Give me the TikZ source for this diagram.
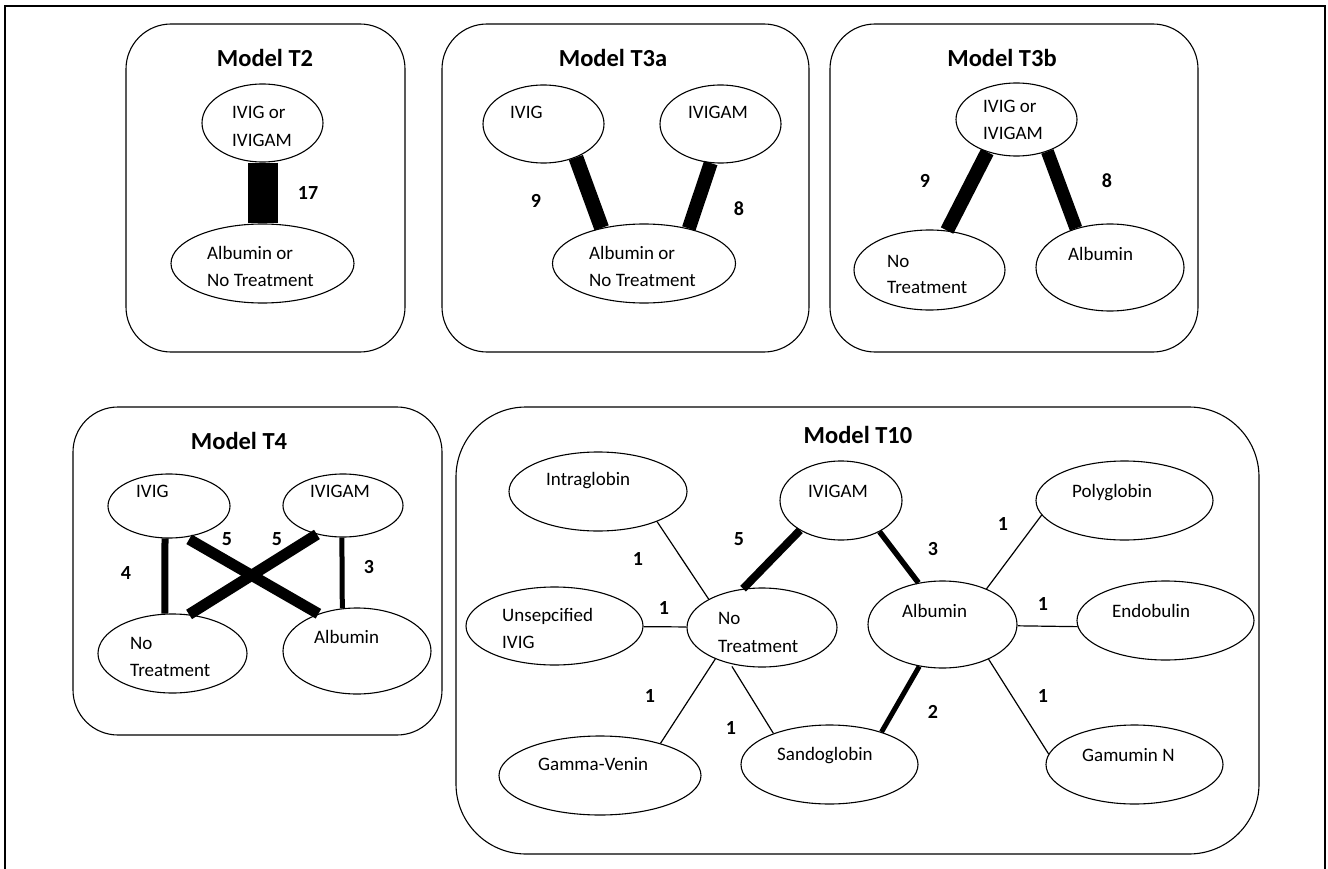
\documentclass[tikz,border=0pt]{standalone}
\usepackage{fontspec}
\setmainfont{Carlito}
\usetikzlibrary{shapes.geometric}
\tikzset{
  frameline/.style={line width=2pt},
  panel/.style={draw, rectangle, rounded corners=45pt, line width=1.1pt, inner sep=0pt, outer sep=0pt},
  oval/.style={draw, ellipse, line width=1.1pt, inner sep=0pt},
  txt/.style={anchor=base west, inner sep=0pt, font=\fontsize{19}{19}\selectfont},
  num/.style={anchor=base, inner sep=0pt, font=\bfseries\fontsize{20}{20}\selectfont},
  ttl/.style={anchor=base, inner sep=0pt, font=\bfseries\fontsize{24.5}{24.5}\selectfont},
  thinedge/.style={line width=1.2pt},
  baredge/.style={line width=#1},
}
\begin{document}
\begin{tikzpicture}[x=1pt,y=-1pt]
\useasboundingbox (0,0) rectangle (1328,869);
\fill[white] (0,0) rectangle (1328,869);
\draw[frameline] (5,869) -- (5,6) -- (1325,6) -- (1325,869);

% ---------- panels ----------
\node[panel, minimum width=279pt, minimum height=328pt] (pT2) at (265.5,188) {};
\node[panel, minimum width=367pt, minimum height=328pt] (pT3a) at (625.5,188) {};
\node[panel, minimum width=368pt, minimum height=328pt] (pT3b) at (1014,188) {};
\node[panel, minimum width=369pt, minimum height=328pt] (pT4) at (257.5,571) {};
\node[panel, rounded corners=70pt, minimum width=803pt, minimum height=447pt] (pT10) at (857.5,630.5) {};

% ---------- titles ----------
\node[ttl] (tT2) at (265,67) {Model T2};
\node[ttl] (tT3a) at (613,67) {Model T3a};
\node[ttl] (tT3b) at (1002,67) {Model T3b};
\node[ttl] (tT4) at (239,449) {Model T4};
\node[ttl] (tT10) at (858,443) {Model T10};

% ---------- Model T2 ----------
\node[oval, minimum width=121pt, minimum height=78pt] (a2) at (262.5,123) {};
\node[oval, minimum width=183pt, minimum height=79pt] (b2) at (262.5,263.5) {};
\node[txt] (a2l1) at (232,119) {IVIG or};
\node[txt] (a2l2) at (232,147) {IVIGAM};
\node[txt] (b2l1) at (207,259) {Albumin or};
\node[txt] (b2l2) at (207,287) {No Treatment};
\draw[baredge=30pt] (a2) -- (b2);
\node[num] (n2) at (308,200) {17};

% ---------- Model T3a ----------
\node[oval, minimum width=121pt, minimum height=78pt] (a3) at (543.5,124) {};
\node[oval, minimum width=121pt, minimum height=78pt] (c3) at (720.5,124) {};
\node[oval, minimum width=183pt, minimum height=79pt] (b3) at (644,263.5) {};
\node[txt] (a3l) at (510,119) {IVIG};
\node[txt] (c3l) at (688,119) {IVIGAM};
\node[txt] (b3l1) at (589,259) {Albumin or};
\node[txt] (b3l2) at (589,287) {No Treatment};
\draw[baredge=15pt] (a3.-46) -- (b3.140);
\draw[baredge=14pt] (c3.-104) -- (b3.38);
\node[num] (n3a) at (536,208) {9};
\node[num] (n3b) at (739,215) {8};

% ---------- Model T3b ----------
\node[oval, minimum width=121pt, minimum height=73pt] (a4) at (1016.5,119.5) {};
\node[oval, minimum width=151pt, minimum height=80pt] (b4) at (929.5,270) {};
\node[oval, minimum width=148pt, minimum height=87pt] (c4) at (1110,267.5) {};
\node[txt] (a4l1) at (983,113) {IVIG or};
\node[txt] (a4l2) at (983,140) {IVIGAM};
\node[txt] (b4l1) at (887,267) {No};
\node[txt] (b4l2) at (887,293) {Treatment};
\node[txt] (c4l) at (1068,260) {Albumin};
\draw[baredge=14pt] (a4.-132) -- (b4.66);
\draw[baredge=13pt] (a4.-46) -- (c4.131);
\node[num] (n4a) at (925,188) {9};
\node[num] (n4b) at (1107,188) {8};

% ---------- Model T4 ----------
\node[oval, minimum width=122pt, minimum height=64pt] (a5) at (169,506) {};
\node[oval, minimum width=120pt, minimum height=63pt] (c5) at (343,505.5) {};
\node[oval, minimum width=149pt, minimum height=79pt] (b5) at (172.5,653.5) {};
\node[oval, minimum width=148pt, minimum height=86pt] (d5) at (357,651) {};
\node[txt] (a5l) at (136,497) {IVIG};
\node[txt] (c5l) at (310,497) {IVIGAM};
\node[txt] (b5l1) at (130,649) {No};
\node[txt] (b5l2) at (130,676) {Treatment};
\node[txt] (d5l) at (314,643) {Albumin};
\draw[baredge=7pt] (a5.-97) -- (b5.101);
\draw[baredge=5pt] (c5.-92) -- (d5.109);
\draw[baredge=11pt, shorten <=4pt] (a5.-62) -- (d5.136);
\draw[baredge=11pt] (c5.-132) -- (b5.67);
\node[num] (n5a) at (126,579) {4};
\node[num] (n5b) at (227,545) {5};
\node[num] (n5c) at (277,545) {5};
\node[num] (n5d) at (369,573) {3};

% ---------- Model T10 ----------
\node[oval, minimum width=178pt, minimum height=79pt] (intra) at (598,491.5) {};
\node[oval, minimum width=177pt, minimum height=78pt] (unsp) at (554.5,626) {};
\node[oval, minimum width=150pt, minimum height=79pt] (nt) at (762,627.5) {};
\node[oval, minimum width=202pt, minimum height=79pt] (gamma) at (600,775.5) {};
\node[oval, minimum width=177pt, minimum height=79pt] (sando) at (829.5,764.5) {};
\node[oval, minimum width=122pt, minimum height=79pt] (ivigam) at (841,500.5) {};
\node[oval, minimum width=149pt, minimum height=87pt] (alb) at (942.5,624.5) {};
\node[oval, minimum width=177pt, minimum height=79pt] (poly) at (1124.5,500.5) {};
\node[oval, minimum width=177pt, minimum height=79pt] (endo) at (1165.5,620.5) {};
\node[oval, minimum width=177pt, minimum height=79pt] (gamu) at (1134.5,764.5) {};

\node[txt] (intral) at (546,485.5) {Intraglobin};
\node[txt] (unspl1) at (502,621) {Unsepcified};
\node[txt] (unspl2) at (502,648) {IVIG};
\node[txt] (ntl1) at (718,624) {No};
\node[txt] (ntl2) at (718,652) {Treatment};
\node[txt] (gammal) at (538,770) {Gamma-Venin};
\node[txt] (sandol) at (777,760) {Sandoglobin};
\node[txt] (ivigaml) at (808,497) {IVIGAM};
\node[txt] (albl) at (902,617) {Albumin};
\node[txt] (polyl) at (1072,497) {Polyglobin};
\node[txt] (endol) at (1112,617) {Endobulin};
\node[txt] (gamul) at (1082,761) {Gamumin N};

\draw[thinedge] (intra.-27) -- (nt.152);
\draw[thinedge] (unsp) -- (nt);
\draw[thinedge] (nt.-146) -- (gamma.28);
\draw[thinedge, shorten <=3pt] (nt.-131) -- (sando.151);
\draw[baredge=8pt] (ivigam.-144) -- (nt.116);
\draw[baredge=5.5pt] (ivigam.-39) -- (alb.120);
\draw[baredge=5pt] (alb.-119) -- (sando.32);
\draw[thinedge] (alb.39) -- (poly.-170);
\draw[thinedge] (alb.-1) -- (endo.184);
\draw[thinedge] (alb.-37) -- (gamu.173);

\node[num] (m1) at (638,565) {1};
\node[num] (m2) at (664,614) {1};
\node[num] (m3) at (650,702) {1};
\node[num] (m4) at (731,734) {1};
\node[num] (m5) at (739,545) {5};
\node[num] (m6) at (933,555) {3};
\node[num] (m7) at (1003,530) {1};
\node[num] (m8) at (1043,610) {1};
\node[num] (m9) at (1043,702) {1};
\node[num] (m10) at (933,718) {2};
\end{tikzpicture}
\end{document}
